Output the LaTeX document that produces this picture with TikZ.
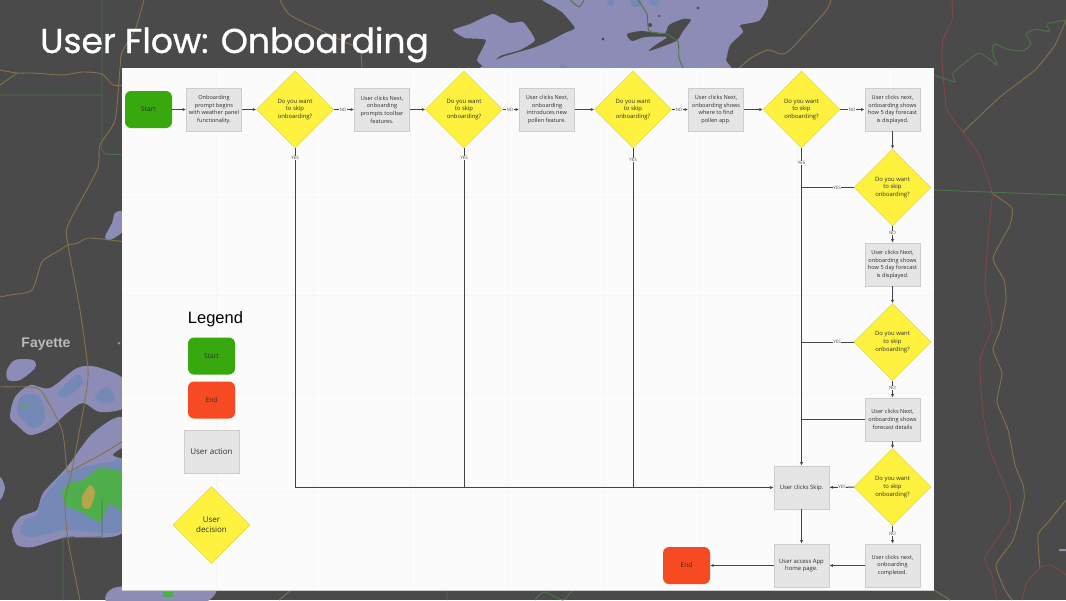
\documentclass[tikz,border=0pt]{standalone}
\usepackage{fontspec}
\setmainfont{Open Sans}
\newfontfamily\titlefont[FakeBold=0.8]{Poppins}
\newfontfamily\legendfont{Liberation Sans}
\usetikzlibrary{shapes.geometric,arrows.meta}

\definecolor{mapgray}{HTML}{4A4A4A}
\definecolor{panelwhite}{HTML}{FBFBFB}
\definecolor{gridgray}{HTML}{F6F6F6}
\definecolor{stormpurple}{HTML}{8C8CB6}
\definecolor{stormblue}{HTML}{7589B6}
\definecolor{stormgreen}{HTML}{4FAE4C}
\definecolor{stormtan}{HTML}{B5A64A}
\definecolor{roadbrown}{HTML}{86714A}
\definecolor{roadgreen}{HTML}{4C744A}
\definecolor{roadred}{HTML}{844646}
\definecolor{startgreen}{HTML}{38A80F}
\definecolor{endred}{HTML}{F64A22}
\definecolor{decisionyellow}{HTML}{FFF23F}
\definecolor{actiongray}{HTML}{E5E5E5}
\definecolor{edgegray}{HTML}{CDCDCD}
\definecolor{linegray}{HTML}{444444}

\tikzset{
  nodetext/.style={font=\fontsize{5.6}{7.7}\selectfont, text=black!82, align=center, inner sep=0pt},
  startbox/.style={nodetext, font=\fontsize{6.6}{8}\selectfont, rectangle, rounded corners=6pt, fill=startgreen, minimum width=47pt, minimum height=37pt},
  endbox/.style={nodetext, font=\fontsize{6.6}{8}\selectfont, rectangle, rounded corners=6pt, fill=endred, minimum width=47pt, minimum height=37pt},
  actionbox/.style={nodetext, rectangle, draw=edgegray, line width=0.8pt, fill=actiongray, minimum width=55pt, minimum height=43pt},
  decision/.style={nodetext, font=\fontsize{5.9}{7.7}\selectfont, diamond, draw=decisionyellow!85!black, line width=0.3pt, fill=decisionyellow, minimum width=77pt, minimum height=77pt},
  flow/.style={draw=linegray, line width=1pt, -{Latex[length=3.4pt,width=3pt]}},
  joinline/.style={draw=linegray, line width=1pt},
  flowlabel/.style={font=\fontsize{4.5}{4.5}\selectfont, text=black!70, fill=panelwhite, inner sep=0.7pt},
  road/.style={line width=0.9pt, roadbrown},
  border/.style={line width=0.9pt, roadgreen},
  redroad/.style={line width=0.9pt, roadred},
}

\begin{document}
\begin{tikzpicture}[x=1pt, y=-1pt]
  \clip (0,0) rectangle (1066,600);
  \fill[mapgray] (0,0) rectangle (1066,600);

  % map behind the panel
  \fill[stormpurple] plot[smooth cycle, tension=.3] coordinates {(453,30) (470,24) (493,14) (510,23) (523,22) (535,40) (520,50) (500,56) (487,68) (477,60) (486,40) (465,38)};
  \fill[stormpurple] plot[smooth cycle, tension=.3] coordinates {(546,-5) (556,8) (563,13) (575,28) (565,33) (548,42) (533,48) (500,58) (480,75) (722,75) (726,60) (730,45) (743,32) (740,25) (760,20) (760,-5)};
  \fill[mapgray] plot[smooth cycle, tension=.4] coordinates {(669,25) (683,19) (691,20) (683,31) (676,41) (649,51) (657,44) (667,37) (645,37) (632,41) (627,34) (642,31) (664,34)};
  \fill[mapgray] (698,8) circle (1.6pt) (659,16) circle (1.2pt) (650,25) circle (2pt) (603,39) circle (1.6pt);
  \fill[stormblue] (611,2) ellipse (4pt and 4pt) (636,2) ellipse (6pt and 5pt) (654,2) ellipse (5pt and 4pt) (563,67) ellipse (4pt and 2pt);
  \fill[stormpurple] plot[smooth cycle, tension=.5] coordinates {(105,237) (112,223) (115,213) (124,212) (124,230) (110,240)};
  \fill[stormpurple] plot[smooth cycle, tension=.5] coordinates {(7,370) (15,360) (33,360) (35,368) (20,380) (8,380)};
  \fill[stormpurple] plot[smooth cycle, tension=.5] coordinates {(10,417) (15,397) (30,385) (50,388) (77,368) (97,367) (125,380) (125,407) (100,412) (83,403) (67,413) (50,428) (30,435) (17,425)};
  \fill[stormblue] plot[smooth cycle, tension=.5] coordinates {(17,407) (23,395) (40,397) (45,420) (33,428) (20,417)};
  \fill[stormblue] plot[smooth cycle, tension=.5] coordinates {(58,393) (77,375) (83,383) (67,397)};
  \fill[stormblue] plot[smooth cycle, tension=.5] coordinates {(95,397) (107,387) (115,400) (103,403)};
  \fill[stormgreen] (22,405) rectangle (27,408);
  \fill[stormpurple] plot[smooth cycle, tension=.4] coordinates {(12,530) (20,517) (37,510) (43,493) (67,467) (93,433) (125,420) (125,530) (67,537) (33,547) (17,545)};
  \fill[mapgray] plot[smooth cycle, tension=.5] coordinates {(113,455) (125,447) (125,458)};
  \fill[stormblue] plot[smooth cycle, tension=.4] coordinates {(42,500) (67,472) (110,462) (125,462) (125,530) (67,530) (33,537) (20,533) (25,520) (37,515)};
  \fill[stormgreen] plot[smooth cycle, tension=.2] coordinates {(62,492) (70,483) (83,480) (100,468) (125,473) (125,513) (110,503) (100,522) (83,513) (65,505)};
  \fill[stormtan] plot[smooth cycle, tension=.5] coordinates {(82,497) (90,485) (95,493) (90,508) (83,507)};
  \fill[stormpurple] plot[smooth cycle, tension=.5] coordinates {(0,477) (5,488) (0,500) (-5,488)};
  \fill[stormpurple] (119,343) circle (1.5pt) (1059,549) rectangle (1066,551);
  \fill[stormpurple] plot[smooth cycle, tension=.4] coordinates {(110,604) (117,587) (213,587) (200,604)};
  \fill[stormgreen] (163,592) rectangle (173,597);

  \draw[road] plot[smooth, tension=.4] coordinates {(144,0) (135,30) (122,52) (120,68) (115,120) (100,145) (97,170) (68,225) (68,245) (80,310) (88,370) (85,400) (72,470) (65,500) (68,540) (80,600)};
  \draw[road] plot[smooth, tension=.4] coordinates {(0,70) (17,73) (33,73) (62,75) (83,72) (102,74) (113,85) (125,85)};
  \draw[road] (0,85) -- (17,73);
  \draw[road] plot[smooth, tension=.4] coordinates {(0,297) (10,295) (32,290) (42,262) (60,250) (68,245) (78,243) (88,238) (110,240) (125,242)};
  \draw[road] plot[smooth, tension=.4] coordinates {(0,387) (30,387) (42,392) (62,430) (67,470) (72,470) (100,455) (125,440)};
  \draw[road] plot[smooth, tension=.4] coordinates {(280,0) (290,15) (320,30) (345,42) (360,50) (362,70)};
  \draw[road] plot[smooth, tension=.4] coordinates {(831,0) (825,12) (790,50) (781,54) (768,50) (751,58) (737,70)};
  \draw[road] plot[smooth, tension=.3] coordinates {(963,132) (1000,97) (1035,70) (1055,45) (1066,20)};
  \draw[road] plot[smooth, tension=.3] coordinates {(992,193) (1012,208) (1010,225) (993,258) (1004,280) (1006,300) (1000,330) (993,350) (1002,373) (997,402) (1008,430) (1015,465) (1023,485) (1024,500) (1013,540) (996,565) (1005,590) (1012,600)};
  \draw[road] plot[smooth, tension=.3] coordinates {(1066,500) (1050,520) (1038,535) (1040,568)};
  \draw[road] (934,590) -- (950,600) (279,600) -- (291,590);
  \draw[redroad] plot[smooth, tension=.3] coordinates {(952,0) (952,20) (943,40) (942,60) (947,110) (963,132) (980,157) (992,193) (989,227) (985,287) (992,327) (980,360) (983,413) (990,450) (1010,500) (1008,522) (985,558) (992,575) (997,600)};
  \draw[redroad] plot[smooth, tension=.4] coordinates {(1022,600) (1027,582) (1040,568) (1050,565) (1063,572) (1066,575)};
  \draw[border] (0,95) -- (102,95) (102,0) -- (102,150) -- (105,154) -- (125,155);
  \draw[border] (102,500) -- (102,537) -- (63,538) -- (63,600) (447,590) -- (447,600);
  \draw[border] (934,190) -- (1066,195);
  \draw[border] plot[smooth, tension=.3] coordinates {(934,75) (955,82) (953,73) (979,53) (997,65) (992,51) (995,44) (1007,49) (1023,51) (1031,44) (1026,34) (1036,29) (1050,32) (1047,24) (1066,20)};
  \draw[border] plot[smooth, tension=.4] coordinates {(570,0) (579,7) (584,0)};
  \draw[border] plot[smooth, tension=.3] coordinates {(638,0) (647,14) (649,31) (666,34) (678,42) (679,58) (684,70)};
  \draw[border] plot[smooth, tension=.4] coordinates {(535,600) (544,592) (563,600) (572,590)};

  \node[font=\titlefont\fontsize{34.5}{34.5}\selectfont, text=white, anchor=base west, inner sep=0pt] (title) at (40,53) {User Flow: Onboarding};
  \node[font=\legendfont\bfseries\fontsize{14}{14}\selectfont, text=white!62!mapgray] (fayette) at (46,344) {Fayette};

  % panel
  \fill[panelwhite] (122,68) rectangle (934,590);
  \draw[edgegray, line width=0.6pt] (122,590) -- (934,590);
  \foreach \gx in {216,313,410,507,604,700,797,893}
    \draw[gridgray, line width=0.5pt] (\gx,68) -- (\gx,590);
  \foreach \gy in {197,295,393,491}
    \draw[gridgray, line width=0.5pt] (122,\gy) -- (934,\gy);

  % top row
  \node[startbox] (start) at (148.5,109.5) {Start};
  \node[actionbox] (prompt) at (214,109.5) {Onboarding\\prompt begins\\with weather panel\\functionality.};
  \node[decision] (skipa) at (295,109.5) {Do you want\\to skip\\onboarding?};
  \node[actionbox] (toolbar) at (382,109.5) {User clicks Next,\\onboarding\\prompts toolbar\\features.};
  \node[decision] (skipb) at (464,109.5) {Do you want\\to skip\\onboarding?};
  \node[actionbox] (pollen) at (547,109.5) {User clicks Next,\\onboarding\\introduces new\\pollen feature.};
  \node[decision] (skipc) at (633,109.5) {Do you want\\to skip\\onboarding?};
  \node[actionbox] (findapp) at (716,109.5) {User clicks Next,\\onboarding shows\\where to find\\pollen app.};
  \node[decision] (skipd) at (801.5,109.5) {Do you want\\to skip\\onboarding?};
  \node[actionbox] (fiveday) at (892.5,109.5) {User clicks next,\\onboarding shows\\how 5 day forecast\\is displayed.};

  % right column
  \node[decision] (skipe) at (892.5,187.5) {Do you want\\to skip\\onboarding?};
  \node[actionbox] (fivedayb) at (892.5,264.5) {User clicks Next,\\onboarding shows\\how 5 day forecast\\is displayed.};
  \node[decision] (skipf) at (892.5,342) {Do you want\\to skip\\onboarding?};
  \node[actionbox] (details) at (892.5,419.5) {User clicks Next,\\onboarding shows\\forecast details};
  \node[decision] (skipg) at (892.5,487) {Do you want\\to skip\\onboarding?};
  \node[actionbox] (done) at (892.5,565.5) {User clicks next,\\onboarding\\completed.};

  \node[actionbox, font=\fontsize{5.9}{7.7}\selectfont] (skip) at (801.5,487.5) {User clicks Skip.};
  \node[actionbox, font=\fontsize{5.9}{7.7}\selectfont] (home) at (801.5,565.5) {User access App\\home page.};
  \node[endbox] (end) at (686.5,565.5) {End};

  % legend
  \node[font=\legendfont\fontsize{16.5}{16.5}\selectfont, text=black] (legend) at (215.5,319) {Legend};
  \node[startbox] (legstart) at (211.5,356) {Start};
  \node[endbox] (legend-end) at (211.5,400) {End};
  \node[actionbox, font=\fontsize{8}{10}\selectfont] (legaction) at (211.5,452) {User action};
  \node[decision, font=\fontsize{8}{10.3}\selectfont] (legdecision) at (211.5,525) {User\\decision};

  % connectors
  \draw[flow] (start) -- (prompt);
  \draw[flow] (prompt) -- (skipa);
  \draw[flow] (skipa) -- (toolbar);
  \draw[flow] (toolbar) -- (skipb);
  \draw[flow] (skipb) -- (pollen);
  \draw[flow] (pollen) -- (skipc);
  \draw[flow] (skipc) -- (findapp);
  \draw[flow] (findapp) -- (skipd);
  \draw[flow] (skipd) -- (fiveday);
  \draw[flow] (fiveday) -- (skipe);
  \draw[flow] (skipe) -- (fivedayb);
  \draw[flow] (fivedayb) -- (skipf);
  \draw[flow] (skipf) -- (details);
  \draw[flow] (details) -- (skipg);
  \draw[flow] (skipg) -- (done);
  \draw[flow] (skipg) -- (skip);
  \draw[flow] (done) -- (home);
  \draw[flow] (home) -- (end);
  \draw[flow] (skip) -- (home);
  \draw[flow] (skipa.south) |- (skip.west);
  \draw[joinline] (skipb.south) -- (skipb.south |- skip.west);
  \draw[joinline] (skipc.south) -- (skipc.south |- skip.west);
  \draw[flow] (skipd.south) -- (skip.north);
  \draw[joinline] (skipe.west) -- (skipe.west -| skipd.south);
  \draw[joinline] (skipf.west) -- (skipf.west -| skipd.south);
  \draw[joinline] (details.west) -- (details.west -| skipd.south);

  \node[flowlabel] (noa) at (343,109.5) {NO};
  \node[flowlabel] (nob) at (510,109.5) {NO};
  \node[flowlabel] (noc) at (679,109.5) {NO};
  \node[flowlabel] (nod) at (852,109.5) {NO};
  \node[flowlabel] (noe) at (892.5,233) {NO};
  \node[flowlabel] (nof) at (892.5,388) {NO};
  \node[flowlabel] (nog) at (892.5,534) {NO};
  \node[flowlabel] (yesa) at (295,158) {YES};
  \node[flowlabel] (yesb) at (464,158) {YES};
  \node[flowlabel] (yesc) at (633,160) {YES};
  \node[flowlabel] (yesd) at (801.5,163) {YES};
  \node[flowlabel] (yese) at (837,187.5) {YES};
  \node[flowlabel] (yesf) at (837,342) {YES};
  \node[flowlabel] (yesg) at (842,487) {YES};
\end{tikzpicture}
\end{document}
